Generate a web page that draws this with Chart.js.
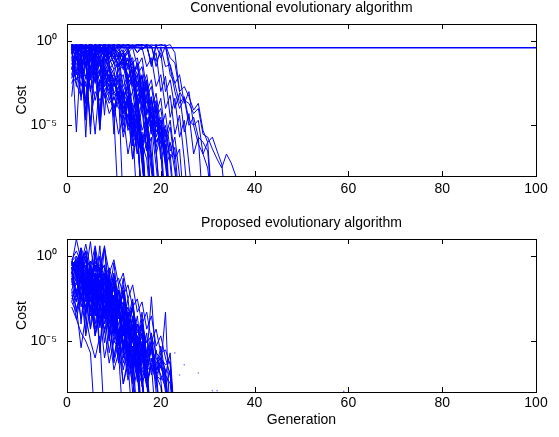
<!DOCTYPE html>
<html>
<head>
<meta charset="utf-8">
<script src="https://cdn.jsdelivr.net/npm/chart.js@4.4.0/dist/chart.umd.min.js"></script>
<style>
  body { margin: 0; background: #fff; }
  #wrap { position: relative; width: 559px; height: 437px; }
  canvas { position: absolute; left: 0; }
  #topChart { top: 0; }
  #bottomChart { top: 215px; }
</style>
</head>
<body>
<div id="wrap">
  <canvas id="topChart" width="559" height="215"></canvas>
  <canvas id="bottomChart" width="559" height="222"></canvas>
</div>
<script>
// generation index for each run value (run[i] is generation i+1)
const generations = Array.from({length: 100}, (_, i) => i + 1);
const xTickValues = [0, 20, 40, 60, 80, 100];
const yTickValues = [1e-5, 1];

// conventional EA: one run stuck at the top for all 100 generations
const conventionalStuck = [
  0.39,0.39,0.39,0.39,0.39,0.39,0.39,0.39,0.39,0.39,0.39,0.39,0.39,0.39,0.39,0.39,0.39,0.39,0.39,0.39,
  0.39,0.39,0.39,0.39,0.39,0.39,0.39,0.39,0.39,0.39,0.39,0.39,0.39,0.39,0.39,0.39,0.39,0.39,0.39,0.39,
  0.39,0.39,0.39,0.39,0.39,0.39,0.39,0.39,0.39,0.39,0.39,0.39,0.39,0.39,0.39,0.39,0.39,0.39,0.39,0.39,
  0.39,0.39,0.39,0.39,0.39,0.39,0.39,0.39,0.39,0.39,0.39,0.39,0.39,0.39,0.39,0.39,0.39,0.39,0.39,0.39,
  0.39,0.39,0.39,0.39,0.39,0.39,0.39,0.39,0.39,0.39,0.39,0.39,0.39,0.39,0.39,0.39,0.39,0.39,0.39,0.39
];

// conventional EA: remaining runs (values below 1e-8 run off the axis)
const conventionalRuns = [
  [6e-1,2e-1,4e-1,5e-2,3e-1,1e-2,5e-2,2e-3,1e-2,3e-5,1e-3,1e-10],
  [3e-1,5e-1,1e-2,2e-1,6e-2,3e-1,4e-2,1e-2,2e-3,3e-5,1e-10],
  [5e-1,4e-6,3e-1,1e-1,4e-1,2e-2,8e-2,3e-3,1e-2,6e-4,1e-3,3e-5,2e-4,1e-6,3e-6,1e-10],
  [2e-1,6e-1,3e-1,2e-6,5e-1,2e-1,5e-2,1e-1,2e-2,4e-3,8e-3,2e-4,1e-3,3e-6,5e-5,1e-7,1e-10],
  [4e-1,1e-1,5e-1,2e-1,3e-6,4e-1,1e-1,3e-2,8e-3,2e-2,3e-4,1e-3,1e-5,4e-5,2e-7,3e-6,1e-10],
  [5e-4,3e-1,2e-2,4e-1,1e-1,5e-1,2e-5,2e-1,4e-2,1e-2,3e-3,5e-4,2e-3,2e-5,1e-4,8e-7,1e-7,1e-10],
  [2e-2,3e-1,8e-2,4e-5,2e-1,3e-2,1e-1,5e-3,2e-2,1e-3,4e-4,5e-5,3e-4,2e-6,1e-5,1e-10],
  [5e-1,3e-1,1e-1,5e-1,2e-2,2e-1,6e-6,1e-1,3e-2,2e-3,5e-3,1e-4,3e-5,2e-4,1e-6,5e-7,1e-10],
  [5e-1,3e-1,6e-1,2e-1,4e-1,8e-2,3e-1,2e-1,5e-2,1e-1,2e-2,5e-2,3e-3,1e-2,5e-4,2e-3,6e-5,3e-4,4e-6,2e-5,5e-7,1e-10],
  [6e-1,5e-1,2e-2,4e-1,3e-1,5e-1,1e-1,4e-5,3e-1,1e-1,4e-2,1e-1,3e-3,8e-3,1e-4,1e-3,8e-6,5e-5,2e-7,3e-6,5e-8,1e-10],
  [4e-1,6e-1,5e-1,3e-1,1e-2,4e-1,2e-1,3e-1,1e-1,2e-1,3e-2,8e-2,4e-3,5e-3,2e-4,1e-3,1e-5,6e-5,5e-7,8e-6,8e-8,1e-10],
  [2e-2,4e-1,3e-1,5e-1,2e-1,3e-3,4e-1,1e-1,2e-1,5e-2,2e-2,3e-2,2e-3,4e-3,1e-4,6e-4,4e-6,2e-5,3e-7,1e-10],
  [5e-1,1e-1,4e-1,6e-1,3e-1,5e-1,1e-5,4e-1,2e-1,3e-1,1e-1,2e-1,6e-3,2e-2,3e-4,1e-3,2e-5,5e-5,1e-6,4e-6,4e-8,2e-7,1e-10],
  [3e-1,5e-1,2e-1,6e-1,4e-1,1e-1,4e-1,2e-2,3e-1,5e-2,1e-1,2e-2,5e-2,1e-3,4e-3,6e-5,5e-4,3e-6,4e-5,1e-7,8e-7,1e-10],
  [6e-1,2e-1,5e-1,3e-1,6e-1,4e-1,2e-1,5e-1,3e-1,4e-1,2e-1,3e-1,2e-2,5e-2,1e-3,8e-3,4e-5,4e-4,2e-6,2e-5,1e-7,1e-6,2e-8,1e-10],
  [1e-1,6e-1,4e-1,2e-4,5e-1,3e-1,6e-1,1e-1,4e-1,2e-1,8e-2,2e-1,3e-2,5e-2,2e-3,1e-2,6e-5,3e-4,4e-6,1e-5,1e-7,1e-10],
  [5e-1,4e-1,6e-1,5e-1,2e-1,5e-1,3e-1,4e-1,1e-1,3e-1,2e-1,1e-1,3e-1,1e-2,5e-2,5e-4,3e-3,3e-5,1e-4,2e-6,6e-6,5e-8,1e-10],
  [4e-1,2e-3,3e-1,1e-1,4e-1,5e-2,2e-1,1e-2,1e-1,2e-2,5e-2,1e-3,6e-3,1e-4,5e-4,5e-6,3e-5,2e-7,1e-10],
  [6e-1,4e-1,1e-1,3e-1,2e-2,3e-1,1e-1,4e-1,6e-2,3e-6,2e-1,4e-2,8e-2,2e-3,1e-2,1e-4,6e-4,4e-6,2e-5,3e-7,1e-10],
  [2e-1,5e-1,6e-1,4e-1,5e-1,2e-1,5e-1,3e-1,6e-1,2e-1,4e-1,1e-1,3e-1,1e-2,4e-2,1e-3,5e-3,4e-5,3e-4,2e-6,1e-5,1e-7,5e-7,1e-10],
  [5e-1,3e-1,4e-1,1e-1,3e-1,6e-1,3e-1,2e-1,4e-1,3e-1,1e-1,2e-1,6e-2,1e-1,2e-3,8e-3,2e-4,5e-4,8e-6,3e-5,3e-7,1e-10],
  [3e-1,6e-1,2e-1,5e-1,1e-3,4e-1,2e-1,3e-1,5e-2,2e-1,3e-2,6e-2,8e-3,3e-2,4e-4,2e-3,1e-5,1e-4,1e-6,3e-6,1e-10],
  [6e-1,5e-1,4e-1,6e-1,3e-1,4e-1,5e-1,2e-1,5e-1,1e-1,3e-1,8e-2,2e-1,4e-2,1e-2,3e-2,5e-4,2e-3,3e-5,1e-4,1e-6,8e-6,5e-8,1e-10],
  [4e-1,6e-1,3e-1,5e-1,6e-1,2e-1,3e-1,6e-1,2e-1,4e-1,5e-1,2e-1,4e-1,5e-2,1e-1,2e-3,1e-2,1e-4,8e-4,6e-6,5e-5,3e-7,2e-6,1e-8,1e-10],
  [5e-1,2e-1,5e-1,3e-2,4e-1,2e-1,4e-1,1e-1,3e-1,1e-1,2e-1,3e-2,1e-1,3e-3,1e-2,3e-4,2e-3,6e-6,1e-4,2e-7,1e-10],
  [6e-1,3e-1,5e-1,4e-1,6e-1,5e-1,4e-1,3e-1,5e-1,3e-1,6e-1,4e-1,2e-1,4e-1,3e-2,1e-1,1e-3,5e-3,5e-5,4e-4,2e-6,2e-5,1e-7,4e-7,1e-10],
  [4e-1,5e-1,1e-1,4e-1,5e-1,3e-1,4e-5,5e-1,2e-1,4e-1,1e-1,2e-1,5e-3,2e-2,2e-4,1e-3,5e-6,6e-5,4e-7,1e-10],
  [2e-1,4e-1,5e-1,2e-1,4e-1,6e-1,2e-1,4e-1,1e-1,5e-1,3e-1,1e-1,2e-1,8e-3,3e-2,6e-4,4e-3,1e-5,2e-4,8e-7,6e-6,1e-10],
  [3e-2,5e-3,1e-2,2e-3,8e-3,3e-4,5e-3,1e-3,2e-4,5e-4,1e-4,3e-4,5e-6,4e-5,2e-7,2e-6,1e-10],
  [1e-1,2e-2,5e-2,8e-3,3e-2,1e-2,2e-3,6e-3,1e-3,3e-3,6e-4,1e-4,5e-4,6e-6,5e-5,4e-7,3e-6,2e-8,1e-10],
  [2e-1,4e-2,1e-1,3e-2,5e-3,4e-2,1e-2,3e-2,4e-3,1e-2,2e-3,4e-4,2e-3,3e-5,2e-4,1e-6,1e-5,1e-10],
  [5e-2,1e-2,3e-2,6e-3,2e-2,4e-3,1e-2,2e-3,5e-3,8e-4,2e-3,5e-5,4e-4,3e-6,2e-5,1e-7,1e-10],
  [4e-1,1e-1,2e-2,1e-1,3e-2,2e-1,5e-2,8e-3,3e-2,5e-3,1e-2,3e-4,2e-3,1e-5,1e-4,6e-7,4e-6,1e-10],
  [1e-2,2e-1,5e-2,1e-1,1e-2,5e-2,3e-3,2e-2,5e-3,2e-3,5e-3,1e-4,6e-4,4e-6,5e-5,3e-7,1e-10],
  [5e-1,2e-1,3e-2,5e-5,1e-1,2e-2,6e-2,1e-2,2e-2,4e-3,2e-2,5e-4,3e-3,1e-5,2e-4,5e-7,1e-5,5e-8,1e-10],
  [3e-1,1e-2,2e-1,5e-2,8e-6,1e-1,3e-2,1e-1,2e-2,5e-2,4e-3,1e-2,2e-4,1e-3,8e-6,8e-5,3e-7,2e-6,1e-10],
  [6e-1,3e-1,5e-1,2e-5,4e-1,1e-1,3e-1,4e-2,2e-1,5e-2,1e-1,2e-3,1e-2,5e-5,5e-4,1e-6,2e-5,1e-7,1e-10],
  [2e-1,5e-1,3e-4,3e-1,2e-1,4e-1,1e-2,3e-1,1e-1,2e-1,3e-2,1e-1,1e-3,1e-2,1e-5,3e-4,3e-7,1e-5,4e-8,1e-10],
  [1e-2,3e-3,5e-4,4e-3,2e-5,1e-3,3e-4,8e-4,5e-5,2e-4,3e-6,4e-5,2e-7,6e-6,1e-10],
  [3e-3,2e-2,6e-4,8e-3,2e-3,3e-6,5e-3,4e-4,1e-3,6e-5,3e-4,2e-6,5e-5,1e-7,3e-6,1e-10],
  [8e-2,5e-3,3e-2,2e-4,1e-2,4e-3,2e-2,1e-3,6e-3,3e-4,2e-3,1e-5,3e-4,6e-7,2e-5,5e-8,1e-10],
  [2e-1,3e-2,6e-3,5e-2,1e-3,2e-2,5e-6,1e-2,2e-3,5e-3,2e-4,1e-3,8e-6,1e-4,2e-7,4e-6,1e-10],
  [4e-2,1e-1,2e-3,4e-2,8e-3,3e-2,1e-3,2e-2,3e-4,4e-3,5e-4,6e-5,5e-4,2e-6,3e-5,1e-7,1e-6,1e-10],
  [6e-3,1e-1,1e-2,3e-4,2e-2,6e-3,1e-2,5e-4,3e-3,1e-4,1e-3,4e-6,2e-4,1e-7,8e-6,1e-10],
  [5e-1,6e-1,5e-1,4e-1,6e-1,5e-1,6e-1,4e-1,5e-1,6e-1,4e-1,5e-1,3e-1,5e-1,2e-1,4e-1,3e-2,1e-1,2e-3,1e-2,1e-4,6e-4,3e-6,4e-5,1e-7,1e-10],
  [6e-1,4e-1,6e-1,5e-1,3e-1,6e-1,5e-1,6e-1,4e-1,5e-1,6e-1,5e-1,6e-1,4e-1,5e-1,3e-1,5e-1,5e-2,2e-1,1e-3,8e-3,3e-5,4e-4,2e-6,2e-5,5e-8,1e-10],
  [3e-1,5e-1,6e-1,3e-1,5e-1,4e-1,6e-1,5e-1,6e-1,3e-1,5e-1,6e-1,4e-1,6e-1,5e-1,6e-1,4e-1,5e-1,6e-2,2e-1,1e-3,5e-3,1e-4,8e-4,4e-6,5e-5,2e-7,2e-6,1e-10],
  [5e-1,6e-1,4e-1,6e-1,5e-1,6e-1,5e-1,6e-1,5e-1,6e-1,5e-1,6e-1,5e-1,4e-1,6e-1,5e-1,6e-1,5e-1,3e-2,4e-1,3e-2,4e-2,3e-3,2e-4,5e-4,2e-5,1e-5,8e-7,2e-7,3e-8,1e-10],
  [6e-1,5e-1,6e-1,5e-1,6e-1,4e-1,6e-1,5e-1,6e-1,5e-1,6e-1,5e-1,6e-1,5e-1,6e-1,6e-1,5e-1,6e-1,5e-1,6e-1,5e-1,3e-2,1e-3,1e-4,4e-4,1e-5,3e-5,2e-6,1e-6,3e-7,1e-10],
  [5e-1,6e-1,5e-1,6e-1,4e-1,6e-1,5e-1,6e-1,5e-1,6e-1,5e-1,4e-1,6e-1,5e-1,6e-1,3e-1,6e-1,5e-1,6e-1,5e-1,6e-1,1e-1,5e-2,1e-3,3e-4,2e-4,5e-5,1e-4,3e-6,2e-6,4e-7,1e-7,3e-8,2e-7,6e-8,1e-8,1e-10],
  [6e-1,5e-1,6e-1,5e-1,6e-1,5e-1,6e-1,5e-1,6e-1,5e-1,6e-1,5e-1,6e-1,5e-1,6e-1,5e-1,6e-1,3e-2,5e-1,6e-1,5e-1,6e-1,2e-1,1e-3,2e-3,5e-4,8e-5,2e-4,5e-6,1e-6,2e-6,3e-7,5e-8,1e-10],
  [5e-1,4e-1,6e-1,5e-1,6e-1,5e-1,3e-1,6e-1,5e-1,6e-1,4e-1,6e-1,5e-1,6e-1,2e-1,6e-1,5e-1,4e-2,6e-1,1e-1,5e-1,1e-2,3e-3,1e-2,2e-4,1e-3,1e-5,2e-5,2e-7,1e-6,1e-10]
];

// proposed EA runs
const proposedRuns = [
  [3e-1,1e1,5e-1,2e0,1e-1,3e-1,5e-2,1e-1,1e-2,5e-2,3e-4,1e-2,2e-4,3e-3,1e-5,5e-4,1e-6,3e-5,1e-7,2e-6,5e-8,1e-10],
  [1e-1,3e-2,2e0,1e-1,7e0,2e-2,1e-1,3e-3,5e-2,1e-4,1e-3,2e-5,5e-4,5e-7,1e-5,2e-6,3e-8,5e-7,1e-7,1e-10],
  [5e-2,1e-1,3e-3,5e-2,2e-3,3e0,4e-3,1e-1,3e-4,5e-3,1e-5,3e-4,1e-6,2e-5,4e-8,1e-6,3e-7,1e-10],
  [2e-1,5e-1,1e-1,3e-2,1e-1,1e-2,4e0,2e-3,5e-2,1e-4,3e-3,5e-6,1e-4,3e-7,1e-5,2e-8,5e-7,1e-10],
  [4e-1,2e-1,3e0,5e-3,2e-1,4e-3,1e-2,3e0,1e-3,3e-2,1e-5,2e-3,8e-7,1e-4,5e-6,1e-10],
  [1e-3,2e-4,3e-5,1e-5,2e-6,1e-10],
  [5e-3,1e-3,4e-6,3e-4,1e-5,1e-6,2e-5,1e-10],
  [2e-3,5e-4,1e-2,2e-5,1e-3,3e-5,5e-4,1e-6,3e-5,2e-7,2e-6,1e-10],
  [1e-2,2e-3,5e-2,4e-4,1e-2,2e-5,3e-4,5e-5,5e-7,1e-5,4e-6,3e-8,5e-7,1e-10],
  [3e-1,1e-1,2e-3,5e-2,5e-4,1e-2,2e-4,5e-3,1e-5,1e-3,3e-5,5e-7,1e-5,1e-8,2e-7,1e-10],
  [2e-1,4e-3,1e-1,1e-2,3e-2,3e-4,1e-2,1e-3,3e-5,4e-4,6e-6,1e-4,3e-7,5e-6,5e-8,1e-6,3e-8,1e-10],
  [4e-1,1e-1,3e-1,5e-3,1e-1,2e-2,8e-4,1e-2,1e-4,3e-3,5e-6,1e-4,4e-6,8e-5,2e-7,1e-5,2e-8,4e-7,1e-10],
  [5e-1,2e-1,6e-1,1e-2,3e-1,5e-2,2e-1,3e-3,1e-1,1e-3,2e-2,1e-4,3e-3,1e-5,3e-4,1e-6,3e-5,1e-7,3e-6,5e-8,2e-7,1e-10],
  [1e-1,5e-2,2e-1,3e-4,5e-2,1e-3,3e-2,2e-4,5e-3,4e-5,1e-3,2e-6,2e-4,6e-8,1e-5,3e-7,5e-8,1e-10],
  [3e-2,1e-2,5e-2,5e-4,2e-2,1e-4,5e-3,3e-5,8e-4,1e-6,3e-5,6e-6,5e-8,1e-6,2e-7,3e-8,1e-10],
  [2e-1,3e-1,5e-2,2e-1,2e-3,1e-1,5e-4,3e-2,1e-4,5e-3,2e-5,1e-3,1e-6,2e-4,3e-6,3e-5,1e-7,4e-6,1e-8,1e-10],
  [5e-1,1e0,2e-1,5e-1,1e-2,2e0,3e-3,2e-1,1e-3,3e-2,3e-4,1e-2,5e-5,1e-3,5e-6,1e-4,4e-7,1e-5,2e-7,6e-7,1e-8,1e-10],
  [3e-1,8e-2,3e0,2e-2,5e-1,5e-3,1e0,3e-3,2e-1,1e-4,1e-2,5e-4,2e-6,1e-4,3e-6,2e-5,2e-8,8e-7,1e-7,5e-8,1e-10],
  [1e-1,3e-1,5e-2,1e-1,2e-3,5e-2,1e-2,2e-3,3e-2,1e-4,2e-3,3e-5,5e-4,8e-6,1e-4,3e-6,1e-6,4e-3,5e-7,1e-7,2e-8,1e-10],
  [4e-2,2e-1,1e-2,5e-2,3e-4,2e-2,1e-3,4e-3,5e-5,1e-3,1e-4,3e-6,5e-5,1e-5,2e-7,5e-6,5e-7,1e-6,2e-7,3e-7,5e-4,1e-10],
  [6e-1,2e0,4e-1,1e0,2e-2,5e-1,1e-1,3e-1,5e-3,8e-2,1e-3,2e-2,3e-4,1e-3,3e-5,1e-4,2e-6,1e-5,2e-7,5e-6,1e-7,2e-6,1e-10],
  [2e-1,1e-1,4e-1,3e-3,1e-1,2e-1,2e-3,6e-2,5e-4,2e-2,2e-5,6e-4,2e-6,5e-5,1e-7,2e-6,6e-8,1e-10],
  [1e-1,2e-3,8e-2,1e-2,5e-2,3e-4,2e-2,1e-4,3e-3,2e-5,5e-4,3e-6,1e-4,2e-7,1e-6,1e-10],
  [3e-1,4e-1,1e-1,3e-1,6e-3,1e-1,3e-3,5e-2,8e-4,5e-3,1e-5,1e-3,2e-5,6e-5,2e-7,3e-6,2e-7,3e-7,1e-7,2e-8,1e-10],
  [5e-2,5e-4,2e-2,1e-3,1e-2,5e-5,2e-3,8e-6,5e-4,5e-7,1e-5,2e-7,5e-6,5e-8,1e-10],
  [2e-1,6e-1,3e-1,2e0,1e-2,4e-1,2e-1,4e0,5e-3,4e-1,1e-3,5e-2,3e-5,2e-3,5e-6,1e-4,5e-7,1e-5,3e-8,1e-6,2e-7,1e-7,1e-10],
  [1e-1,5e-1,2e-1,1e0,8e-3,3e-1,3e-2,1e-1,1e-3,4e-2,5e-4,2e-3,1e-5,3e-4,1e-6,3e-5,2e-7,5e-6,2e-7,4e-7,1e-7,3e-8,1e-10],
  [3e-3,1e-2,2e-4,5e-3,5e-5,2e-3,1e-4,5e-4,2e-6,1e-4,5e-7,1e-5,1e-6,3e-8,5e-7,1e-10],
  [4e-1,1e-1,2e-1,2e-3,1e-1,1e-2,4e-2,5e-4,2e-2,1e-4,2e-3,2e-6,1e-4,3e-7,1e-5,5e-8,8e-7,3e-7,5e-8,1e-10],
  [2e-2,1e-1,1e-3,2e-2,3e-3,1e-2,8e-5,3e-3,2e-5,5e-4,5e-7,1e-4,1e-6,4e-6,1e-7,2e-7,4e-8,1e-10],
  [1e-1,4e-1,3e0,5e-1,2e-2,1e0,1e-1,3e-1,5e-3,1e-1,2e-3,5e-3,4e-5,1e-3,3e-6,6e-5,2e-7,4e-6,1e-7,3e-7,5e-8,1e-10],
  [5e-1,3e-1,1e0,1e-2,3e-1,3e-3,2e-1,2e-4,8e-2,3e-5,1e-2,1e-6,5e-4,1e-7,2e-5,1e-6,2e-8,1e-6,2e-7,1e-10],
  [8e-3,2e-4,5e-3,1e-3,3e-3,2e-5,1e-3,5e-5,2e-4,1e-6,5e-5,3e-8,1e-6,2e-7,1e-10],
  [2e-1,5e-3,2e-1,1e-2,5e-2,5e-4,2e-2,1e-3,5e-3,5e-5,1e-3,1e-5,3e-5,5e-7,2e-6,5e-8,1e-7,1e-10],
  [3e-1,1e-1,5e-1,5e-2,2e-1,2e-3,1e-1,1e-2,5e-2,5e-4,1e-2,2e-4,1e-3,5e-5,1e-4,3e-6,1e-5,2e-6,5e-7,1e-6,2e-8,2e-7,1e-10],
  [1e-1,2e-1,3e-2,2e0,5e-3,8e-2,2e-2,5e-2,5e-4,2e-2,1e-3,5e-3,3e-5,1e-3,5e-6,2e-4,1e-6,3e-6,1e-6,3e-7,1e-7,1e-10],
  [5e-1,5e-2,3e-1,3e-5,1e-1,5e-3,4e-2,5e-4,3e-3,8e-6,1e-3,2e-5,4e-4,1e-6,2e-5,1e-7,1e-10],
  [3e-2,3e-1,1e-4,2e-1,3e-2,1e-1,2e-6,3e-2,4e-3,1e-2,2e-4,1e-3,3e-6,3e-4,5e-7,6e-6,5e-8,1e-10],
  [2e-1,7e-1,1e-1,6e-1,3e-2,2e-1,6e-2,1e-1,1e-2,3e-2,1e-3,8e-3,2e-4,1e-3,4e-5,1e-4,8e-6,2e-5,2e-6,1e-6,4e-7,6e-7,1e-10],
  [6e-2,2e-1,2e-2,1e-1,6e-5,4e-2,2e-3,1e-2,3e-4,2e-3,2e-5,4e-4,5e-7,3e-5,3e-6,5e-8,1e-10],
  [4e-1,3e-1,8e-1,2e-1,5e-1,2e-1,3e-1,6e-2,2e-1,2e-2,5e-2,5e-3,2e-2,1e-3,3e-3,1e-4,5e-4,1e-5,5e-5,2e-6,3e-6,4e-7,1e-10],
  [2e-3,3e-2,5e-3,1e-2,1e-3,3e-3,3e-6,1e-3,1e-4,4e-4,1e-5,5e-5,5e-7,5e-6,1e-7,1e-10],
  [1e-1,1e0,3e-1,5e0,2e-1,4e0,1e-1,3e0,1e-1,6e-1,2e-2,1e-1,3e-3,2e-2,5e-4,2e-3,5e-5,3e-4,5e-6,2e-5,1e-6,1e-7,1e-10],
  [5e-2,2e-2,8e-2,3e-3,3e-2,6e-4,1e-2,2e-4,4e-3,3e-5,5e-4,3e-6,6e-5,2e-7,5e-6,5e-8,1e-10],
  [2e-1,8e-2,1e-1,1e-2,6e-2,3e-3,2e-2,4e-4,8e-3,6e-5,2e-3,5e-6,3e-4,8e-7,2e-5,1e-7,1e-10],
  [1e-2,6e-2,4e-3,3e-2,1e-3,8e-3,6e-5,3e-3,4e-5,5e-4,2e-6,8e-5,1e-7,4e-6,1e-10]
];

// isolated single points left after the proposed runs converge
const proposedDotGen = [23, 24, 25, 28, 31, 32, 59];
const proposedDotCost = [2e-6, 1e-7, 4e-7, 1.3e-7, 1.2e-8, 1.2e-8, 1.1e-8];

const FONT = 'Liberation Sans, Arial, Helvetica, sans-serif';

const matlabBox = {
  id: 'matlabBox',
  afterDraw(chart) {
    const {ctx, chartArea: a, scales: {x, y}} = chart;
    ctx.save();
    ctx.strokeStyle = '#000';
    ctx.lineWidth = 1;
    ctx.beginPath();
    xTickValues.forEach(v => {
      const px = Math.round(x.getPixelForValue(v)) + 0.5;
      ctx.moveTo(px, a.bottom); ctx.lineTo(px, a.bottom - 5);
      ctx.moveTo(px, a.top); ctx.lineTo(px, a.top + 5);
    });
    yTickValues.forEach(v => {
      const py = Math.round(y.getPixelForValue(v)) + 0.5;
      ctx.moveTo(a.left, py); ctx.lineTo(a.left + 5, py);
      ctx.moveTo(a.right, py); ctx.lineTo(a.right - 5, py);
    });
    ctx.stroke();
    ctx.strokeRect(Math.round(a.left) + 0.5, Math.round(a.top) + 0.5,
      Math.round(a.right - a.left), Math.round(a.bottom - a.top));
    ctx.restore();
  }
};

function runDataset(run, width) {
  return {
    data: run.map((v, i) => ({x: generations[i], y: v})),
    borderColor: '#0000ff',
    borderWidth: width || 1,
    pointRadius: 0,
    tension: 0,
    fill: false
  };
}

function makeChart(id, titleText, datasets, xHeight, xTickPad, xTitle) {
  return new Chart(document.getElementById(id), {
    type: 'line',
    data: {datasets: datasets},
    plugins: [matlabBox],
    options: {
      responsive: false,
      animation: false,
      devicePixelRatio: 1,
      layout: {padding: {left: 0, right: 23, top: 0, bottom: 0}},
      plugins: {
        legend: {display: false},
        tooltip: {enabled: false},
        title: {
          display: true, text: titleText, color: '#000', fullSize: false,
          font: {family: FONT, size: 14, weight: 'normal'},
          padding: {top: 0, bottom: 7.2}
        }
      },
      scales: {
        x: {
          type: 'linear', min: 0, max: 100,
          afterBuildTicks: s => { s.ticks = xTickValues.map(v => ({value: v})); },
          ticks: {color: '#000', font: {family: FONT, size: 14}, padding: xTickPad, maxRotation: 0},
          grid: {display: false, drawTicks: false}, border: {display: false},
          title: {
            display: !!xTitle, text: xTitle || '', color: '#000',
            font: {family: FONT, size: 14}, padding: {top: 0, bottom: 8}
          },
          afterFit: s => { s.height = xHeight; }
        },
        y: {
          type: 'logarithmic', min: 1e-8, max: 10,
          afterBuildTicks: s => { s.ticks = yTickValues.map(v => ({value: v})); },
          ticks: {
            color: '#000', font: {family: FONT, size: 14}, padding: 10,
            callback: v => v === 1 ? '10\u2070' : '10\u207B\u2075'
          },
          grid: {display: false, drawTicks: false}, border: {display: false},
          title: {
            display: true, text: 'Cost', color: '#000',
            font: {family: FONT, size: 14}, padding: {top: 14, bottom: 0}
          },
          afterFit: s => { s.width = 67; }
        }
      }
    }
  });
}

makeChart('topChart', 'Conventional evolutionary algorithm',
  [runDataset(conventionalStuck, 1.6)].concat(conventionalRuns.map(r => runDataset(r))),
  39, 5, '');

const dots = {
  type: 'line',
  showLine: false,
  data: proposedDotGen.map((g, i) => ({x: g, y: proposedDotCost[i]})),
  pointRadius: 0.8,
  pointBorderWidth: 0,
  pointBackgroundColor: '#7777ff'
};
makeChart('bottomChart', 'Proposed evolutionary algorithm',
  proposedRuns.map(r => runDataset(r)).concat([dots]), 45, 3, 'Generation');
</script>
</body>
</html>
